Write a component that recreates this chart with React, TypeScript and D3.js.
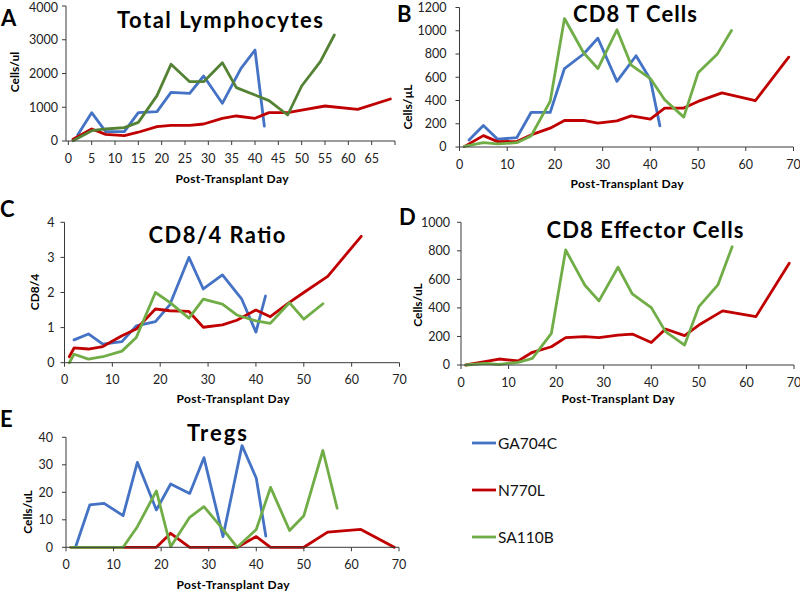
import React from 'react';
import * as d3 from 'd3';

// ---------- data ----------
const seriesNames = ['GA704C', 'N770L', 'SA110B'];

const daysBlue = [2, 5, 8, 12, 15, 19, 22, 26, 29, 33, 37, 40, 42];
const daysRed = [1, 5, 8, 12, 15, 19, 22, 26, 29, 33, 36, 40, 43, 47, 50, 55, 62, 69];
const daysGreen = [1, 5, 8, 12, 15, 19, 22, 26, 29, 33, 36, 40, 43, 47, 50, 54, 57];
const daysRedRatio = [1, 2, 5, 8, 12, 15, 19, 22, 26, 29, 33, 36, 40, 43, 47, 50, 55, 62];
const daysGreenRatio = [1, 2, 5, 8, 12, 15, 19, 22, 26, 29, 33, 36, 40, 43, 47, 50, 54];

// A: Total Lymphocytes
const totalBlue = [178, 840, 276, 276, 840, 869, 1442, 1412, 1926, 1116, 2153, 2696, 444];
const totalRed = [49, 356, 198, 158, 260, 425, 464, 464, 504, 672, 741, 672, 840, 840, 918, 1037, 938, 1244];
const totalGreen = [10, 306, 356, 395, 553, 1343, 2272, 1758, 1758, 2321, 1580, 1363, 1195, 770, 1630, 2350, 3141];

// B: CD8 T Cells
const cd8Blue = [60, 185, 67, 80, 297, 297, 675, 800, 935, 565, 785, 580, 182];
const cd8Red = [3, 98, 46, 48, 104, 162, 228, 228, 205, 225, 268, 240, 335, 335, 392, 465, 398, 773];
const cd8Green = [5, 37, 26, 37, 95, 392, 1105, 811, 675, 1008, 704, 589, 407, 257, 638, 797, 1002];

// C: CD8/4 Ratio
const ratioBlue = [0.65, 0.82, 0.53, 0.6, 1.05, 1.17, 1.65, 3.0, 2.1, 2.5, 1.82, 0.87, 1.9];
const ratioRed = [0.17, 0.42, 0.39, 0.46, 0.77, 0.96, 1.53, 1.48, 1.46, 1.01, 1.08, 1.21, 1.5, 1.31, 1.72, 2.0, 2.46, 3.6];
const ratioGreen = [0, 0.24, 0.1, 0.17, 0.33, 0.72, 2.0, 1.72, 1.27, 1.81, 1.67, 1.36, 1.19, 1.12, 1.71, 1.24, 1.68];

// D: CD8 Effector Cells
const effRed = [0, 23, 42, 28, 89, 128, 192, 199, 192, 210, 217, 157, 252, 206, 280, 379, 339, 713];
const effGreen = [0, 12, 5, 19, 47, 222, 806, 561, 449, 685, 498, 402, 234, 140, 409, 561, 829];

// E: Tregs
const tregBlue = [0, 15.4, 16.0, 11.5, 30.9, 13.6, 23.0, 19.6, 32.6, 3.9, 37.0, 25.1, 4.1];
const tregRed = [0, 0, 0, 0, 0, 0, 5.1, 0, 0, 0, 0, 3.9, 0, 0, 0, 5.5, 6.5, 0];
const tregGreen = [0, 0, 0, 0, 7.5, 20.5, 0.2, 10.9, 14.8, 6.5, 0, 6.5, 21.8, 6.1, 11.5, 35.2, 14.2];

const ticksA = [0, 5, 10, 15, 20, 25, 30, 35, 40, 45, 50, 55, 60, 65];
const ticksX10 = [0, 10, 20, 30, 40, 50, 60, 70];
const yTicksA = [0, 1000, 2000, 3000, 4000];
const yTicksB = [0, 200, 400, 600, 800, 1000, 1200];
const yTicksC = [0, 1, 2, 3, 4];
const yTicksD = [0, 200, 400, 600, 800, 1000];
const yTicksE = [0, 10, 20, 30, 40];

// ---------- styles ----------
const BLUE = '#4472C4';
const RED = '#C00000';
const GREEN = '#70AD47';
const DKGREEN = '#548235';
const AXIS = '#3a3a3a';
const FONT = 'Lato, "Open Sans", sans-serif';

type Series = { days: number[]; values: number[]; color: string };
type Panel = {
  letter: string; lx: number; ly: number;
  title: string; tx: number; ty: number; tLen: number;
  yTitle: string; ytx: number; yty: number;
  xDomain: [number, number]; xRange: [number, number];
  yDomain: [number, number]; yRange: [number, number];
  xTicks: number[]; xTickLabels: number[]; yTicks: number[];
  yLabelGap: number;
  xTitleX: number; xTitleY: number;
  series: Series[];
};

const panels: Panel[] = [
  {
    letter: 'A', lx: 1, ly: 26,
    title: 'Total Lymphocytes', tx: 220, ty: 28, tLen: 206,
    yTitle: 'Cells/ul', ytx: 19, yty: 72,
    xDomain: [-0.5, 70], xRange: [66, 395],
    yDomain: [0, 4000], yRange: [141, 6],
    xTicks: [...ticksA, 70], xTickLabels: ticksA, yTicks: yTicksA, yLabelGap: 8,
    xTitleX: 232, xTitleY: 183,
    series: [
      { days: daysBlue, values: totalBlue, color: BLUE },
      { days: daysRed, values: totalRed, color: RED },
      { days: daysGreen, values: totalGreen, color: DKGREEN },
    ],
  },
  {
    letter: 'B', lx: 397, ly: 22,
    title: 'CD8 T Cells', tx: 635, ty: 22, tLen: 124,
    yTitle: 'Cells/\u00b5L', ytx: 412, yty: 107,
    xDomain: [0, 70], xRange: [459.5, 793.5],
    yDomain: [0, 1200], yRange: [147, 7.5],
    xTicks: ticksX10, xTickLabels: ticksX10, yTicks: yTicksB, yLabelGap: 13,
    xTitleX: 627, xTitleY: 188,
    series: [
      { days: daysBlue, values: cd8Blue, color: BLUE },
      { days: daysRed, values: cd8Red, color: RED },
      { days: daysGreen, values: cd8Green, color: GREEN },
    ],
  },
  {
    letter: 'C', lx: 0, ly: 217,
    title: 'CD8/4 Ratio', tx: 217, ty: 243, tLen: 137,
    yTitle: 'CD8/4', ytx: 39, yty: 292,
    xDomain: [0, 70], xRange: [64.5, 399.5],
    yDomain: [0, 4], yRange: [362.7, 222.3],
    xTicks: ticksX10, xTickLabels: ticksX10, yTicks: yTicksC, yLabelGap: 10,
    xTitleX: 233, xTitleY: 403,
    series: [
      { days: daysBlue, values: ratioBlue, color: BLUE },
      { days: daysRedRatio, values: ratioRed, color: RED },
      { days: daysGreenRatio, values: ratioGreen, color: GREEN },
    ],
  },
  {
    letter: 'D', lx: 399, ly: 225,
    title: 'CD8 Effector Cells', tx: 645, ty: 238, tLen: 197,
    yTitle: 'Cells/uL', ytx: 422, yty: 305,
    xDomain: [0, 70], xRange: [461, 794],
    yDomain: [0, 1000], yRange: [365, 222.3],
    xTicks: ticksX10, xTickLabels: ticksX10, yTicks: yTicksD, yLabelGap: 11,
    xTitleX: 618, xTitleY: 403,
    series: [
      { days: daysRed, values: effRed, color: RED },
      { days: daysGreen, values: effGreen, color: GREEN },
    ],
  },
  {
    letter: 'E', lx: 0, ly: 427,
    title: 'Tregs', tx: 217, ty: 441, tLen: 60,
    yTitle: 'Cells/uL', ytx: 32, yty: 512,
    xDomain: [0, 70], xRange: [66, 399],
    yDomain: [0, 40], yRange: [547.3, 437.3],
    xTicks: ticksX10, xTickLabels: ticksX10, yTicks: yTicksE, yLabelGap: 13,
    xTitleX: 233, xTitleY: 589,
    series: [
      { days: daysBlue, values: tregBlue, color: BLUE },
      { days: daysRed, values: tregRed, color: RED },
      { days: daysGreen, values: tregGreen, color: GREEN },
    ],
  },
];

const legendColors = [BLUE, RED, GREEN];
const legendY = [443, 490, 537];

function PanelView({ p }: { p: Panel }) {
  const x = d3.scaleLinear().domain(p.xDomain).range(p.xRange);
  const y = d3.scaleLinear().domain(p.yDomain).range(p.yRange);
  const x0 = p.xRange[0];
  const y0 = p.yRange[0];
  return (
    <g>
      {p.series.map((s, i) => {
        const pts: [number, number][] = s.days.map((d, k) => [d, s.values[k]]);
        const line = d3.line<[number, number]>().x((d) => x(d[0])).y((d) => y(d[1]));
        return (
          <path key={i} d={line(pts) || ''} fill="none" stroke={s.color} strokeWidth={2.8}
            strokeLinejoin="round" strokeLinecap="round" />
        );
      })}
      <line x1={x0} x2={x0} y1={y0} y2={p.yRange[1]} stroke={AXIS} strokeWidth={1} />
      <line x1={x0} x2={p.xRange[1]} y1={y0} y2={y0} stroke={AXIS} strokeWidth={1} />
      {p.yTicks.map((t) => (
        <g key={'y' + t}>
          <line x1={x0 - 4} x2={x0} y1={y(t)} y2={y(t)} stroke={AXIS} strokeWidth={1} />
          <text x={x0 - p.yLabelGap} y={Math.max(y(t), 7.5)} dy="0.35em" textAnchor="end" fontSize={12.5}
            fontFamily={FONT} fill="#222">{t}</text>
        </g>
      ))}
      {p.xTicks.map((t) => (
        <line key={'xt' + t} x1={x(t)} x2={x(t)} y1={y0} y2={y0 + 4} stroke={AXIS} strokeWidth={1} />
      ))}
      {p.xTickLabels.map((t) => (
        <text key={'xl' + t} x={x(t)} y={y0 + 21.5} textAnchor="middle" fontSize={12.5}
          fontFamily={FONT} fill="#222">{t}</text>
      ))}
      <text x={p.tx} y={p.ty} textAnchor="middle" fontSize={22} fontWeight="bold"
        fontFamily={FONT} fill="#000" textLength={p.tLen} lengthAdjust="spacing">{p.title}</text>
      <text x={p.lx} y={p.ly} fontSize={22} fontWeight="bold" fontFamily={FONT} fill="#000">{p.letter}</text>
      <text x={p.xTitleX} y={p.xTitleY} textAnchor="middle" fontSize={12} fontWeight="bold"
        fontFamily={FONT} fill="#000" textLength={113} lengthAdjust="spacing">Post-Transplant Day</text>
      <text transform={`translate(${p.ytx},${p.yty}) rotate(-90)`} textAnchor="middle" fontSize={12}
        fontWeight="bold" fontFamily={FONT} fill="#000">{p.yTitle}</text>
    </g>
  );
}

export default function App() {
  return (
    <svg width={800} height={592} viewBox="0 0 800 592"
      style={{ position: 'absolute', left: 0, top: 0, background: '#fff' }}>
      <rect x={0} y={0} width={800} height={592} fill="#fff" />
      {panels.map((p) => <PanelView key={p.letter} p={p} />)}
      {seriesNames.map((n, i) => (
        <g key={n}>
          <line x1={472} x2={496} y1={legendY[i]} y2={legendY[i]} stroke={legendColors[i]} strokeWidth={2.8} />
          <text x={498} y={legendY[i]} dy="0.36em" fontSize={15.5} fontFamily={FONT} fill="#111">{n}</text>
        </g>
      ))}
    </svg>
  );
}
